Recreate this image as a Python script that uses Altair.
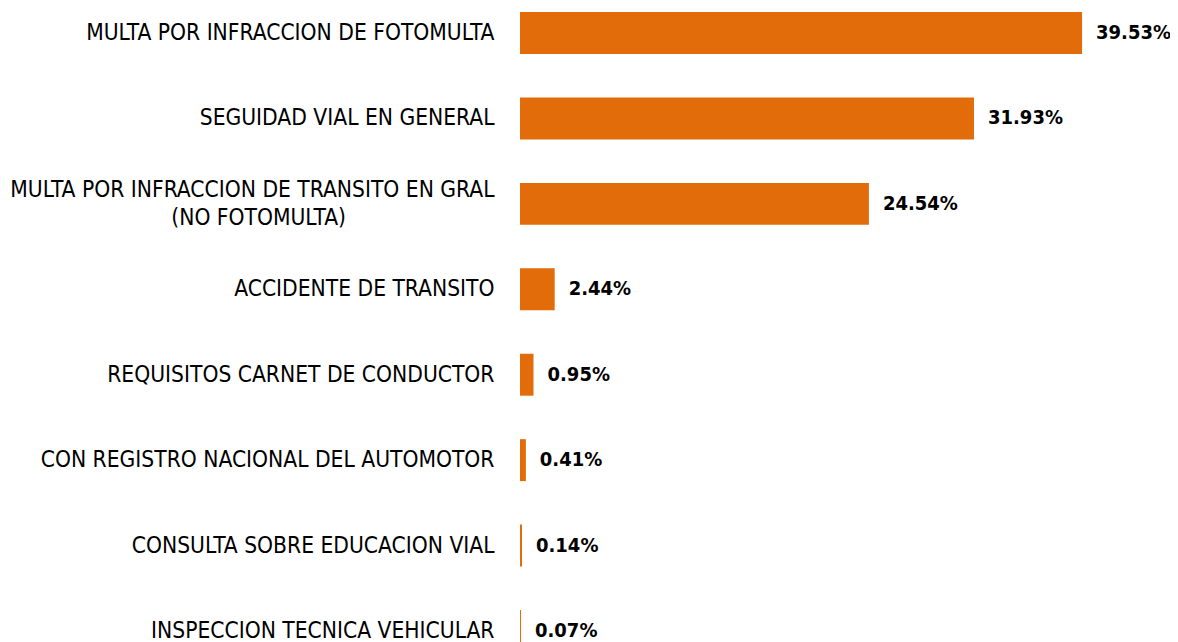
import altair as alt
import pandas as pd

NB = "\u00a0" * 23 + "\u200b"
categories = [
    "MULTA POR INFRACCION DE FOTOMULTA",
    "SEGUIDAD VIAL EN GENERAL",
    "MULTA POR INFRACCION DE TRANSITO EN GRAL|(NO FOTOMULTA)" + NB,
    "ACCIDENTE DE TRANSITO",
    "REQUISITOS CARNET DE CONDUCTOR",
    "CON REGISTRO NACIONAL DEL AUTOMOTOR",
    "CONSULTA SOBRE EDUCACION VIAL",
    "INSPECCION TECNICA VEHICULAR",
]
values = [39.53, 31.93, 24.54, 2.44, 0.95, 0.41, 0.14, 0.07]
labels = ["39.53%", "31.93%", "24.54%", "2.44%", "0.95%", "0.41%", "0.14%", "0.07%"]

df = pd.DataFrame({"cat": categories, "val": values, "lab": labels})

FONT = "DejaVu Sans Condensed, sans-serif"
ORANGE = "#E36C0A"

y = alt.Y(
    "cat:N",
    sort=categories,
    title=None,
    scale=alt.Scale(paddingInner=0.509, paddingOuter=0.047),
    axis=alt.Axis(
        ticks=False,
        domain=False,
        grid=False,
        labelPadding=26,
        labelLimit=600,
        labelFont=FONT,
        labelFontSize=22.6,
        labelColor="#000000",
        labelLineHeight=28,
        labelOffset={"condition": {"test": "indexof(datum.value, '|') >= 0", "value": -14}, "value": 0},
        labelExpr="split(datum.value, '|')",
    ),
)

x = alt.X("val:Q", title=None, scale=alt.Scale(domain=[0, 44.59], nice=False), axis=None)

bars = alt.Chart(df).mark_bar(color=ORANGE).encode(x=x, y=y)
text = alt.Chart(df).mark_text(
    align="left", baseline="middle", dx=14, font=FONT, fontSize=20, fontWeight="bold", color="#000000"
).encode(x=x, y=alt.Y("cat:N", sort=categories), text="lab:N")

chart = (
    alt.layer(bars, text)
    .properties(
        width=634,
        height=648,
        autosize=alt.AutoSizeParams(type="none"),
        padding={"left": 512, "top": 0, "right": 16, "bottom": 0},
    )
    .configure(background="white")
    .configure_view(stroke="transparent", strokeWidth=0)
)

chart.save("out.html", embed_options={"renderer": "svg", "actions": False})
